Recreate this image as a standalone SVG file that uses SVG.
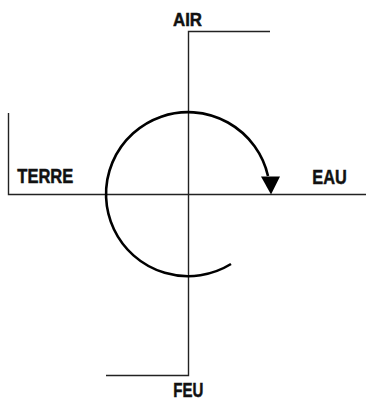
<svg xmlns="http://www.w3.org/2000/svg" width="366" height="400" viewBox="0 0 366 400">
<style>
.ln{fill:none;stroke:#222;stroke-width:1.4}
.arc{fill:none;stroke:#000;stroke-width:2.6}
.lbl{font-family:"Liberation Sans",Arial,sans-serif;font-weight:bold;font-size:20px;fill:#111;stroke:#111;stroke-width:0.5}
</style>
<rect width="366" height="400" fill="#fff"/>
<g id="connectors">
<path class="ln" d="M270 31.5 H188.5 V375.5 H106"/>
<path class="ln" d="M8.5 113 V194.5 H366"/>
<path class="arc" d="M231 264 A82 82 0 1 1 268 176"/>
<polygon points="261,176.5 280,176.5 271,194.5" fill="#000"/>
</g>
<g id="air"><text class="lbl" x="173" y="25.7" textLength="29" lengthAdjust="spacingAndGlyphs" style="font-size:19px">AIR</text></g>
<g id="terre"><text class="lbl" x="17.3" y="183.3" textLength="56" lengthAdjust="spacingAndGlyphs">TERRE</text></g>
<g id="eau"><text class="lbl" x="312.3" y="184" textLength="34.4" lengthAdjust="spacingAndGlyphs">EAU</text></g>
<g id="feu"><text class="lbl" x="173.3" y="397" textLength="30" lengthAdjust="spacingAndGlyphs">FEU</text></g>
</svg>
